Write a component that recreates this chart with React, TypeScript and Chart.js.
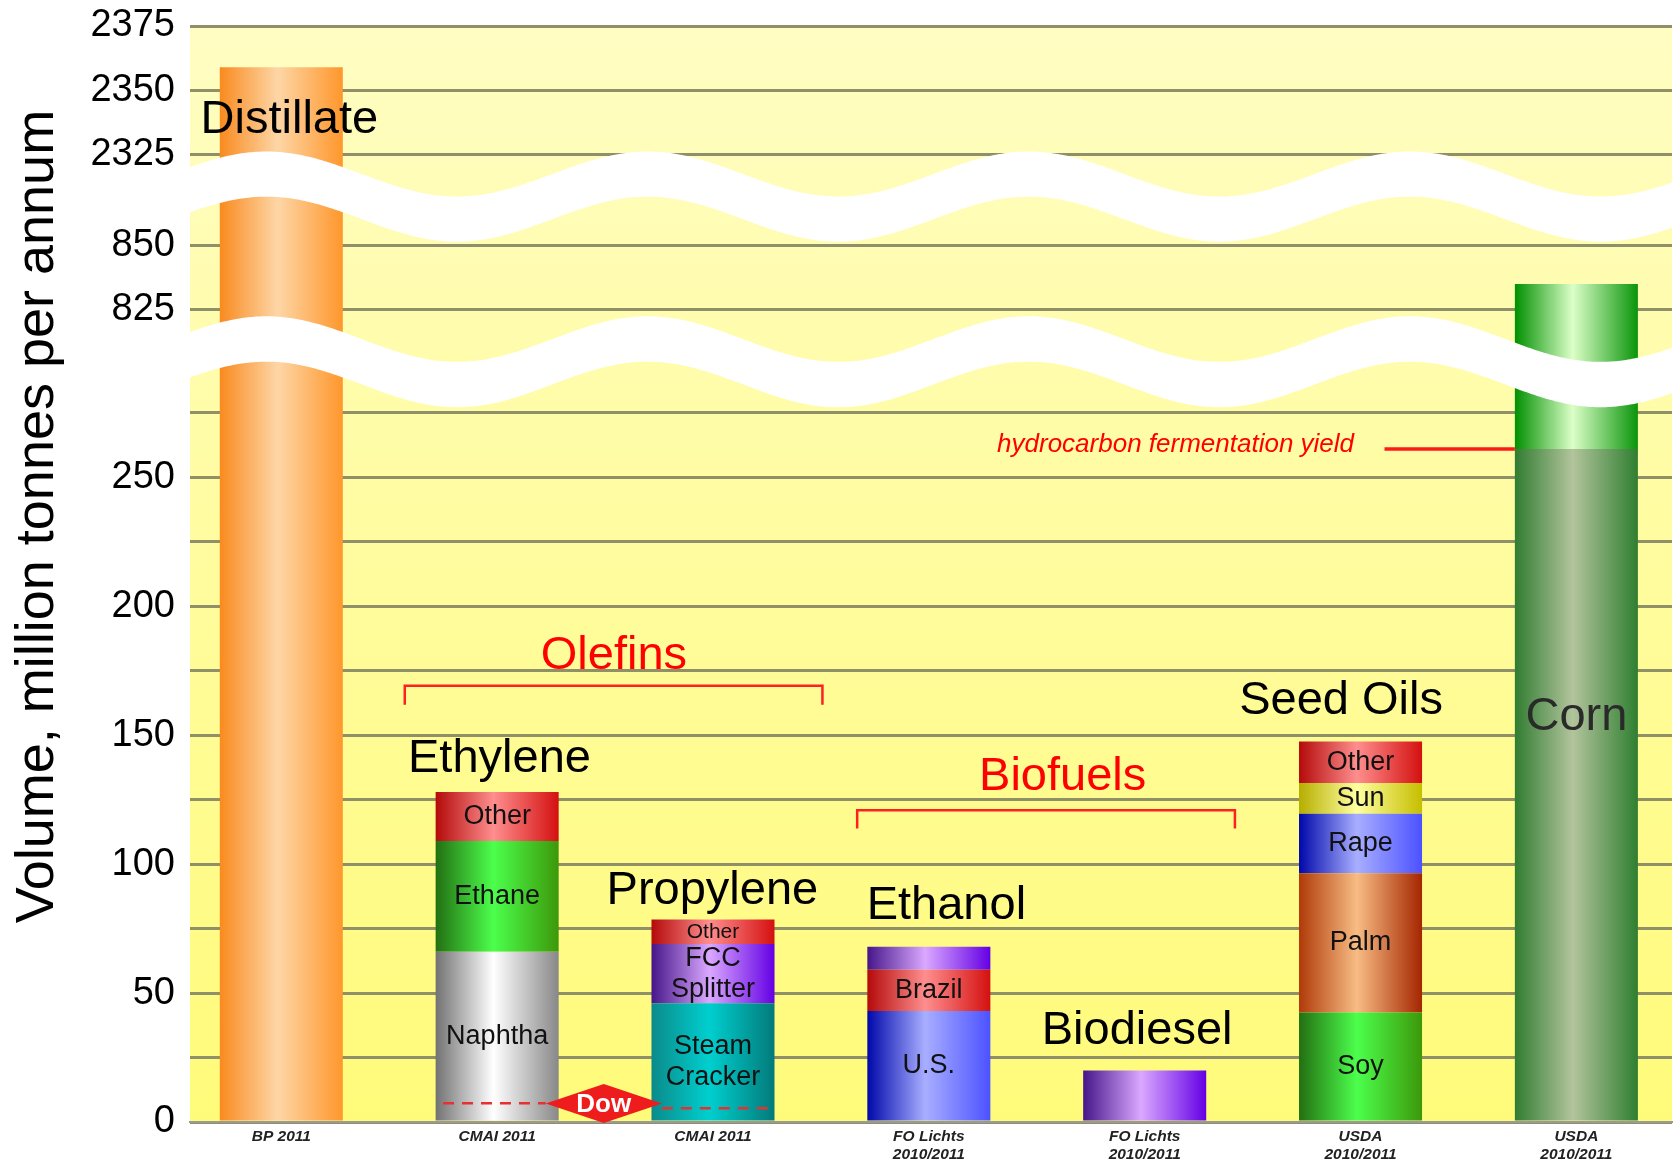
import React, { useEffect, useRef } from 'react';
import { Chart, registerables } from 'chart.js';

Chart.register(...registerables);

// ---------------- data ----------------
const categoryLabels: string[][] = [
  ['BP 2011'],
  ['CMAI 2011'],
  ['CMAI 2011'],
  ['FO Lichts', '2010/2011'],
  ['FO Lichts', '2010/2011'],
  ['USDA', '2010/2011'],
  ['USDA', '2010/2011'],
];
const productNames = ['Distillate', 'Ethylene', 'Propylene', 'Ethanol', 'Biodiesel', 'Seed Oils', 'Corn'];
const groupNames = ['Olefins', 'Biofuels'];

const distillateSegments = [''];
const distillateValues = [2359];
const ethyleneSegments = ['Naphtha', 'Ethane', 'Other'];
const ethyleneValues = [66, 43, 19];
const propyleneSegments = ['Steam\nCracker', 'FCC\nSplitter', 'Other'];
const propyleneValues = [46, 23, 9.5];
const ethanolSegments = ['U.S.', 'Brazil', ''];
const ethanolValues = [43, 16, 9];
const biodieselSegments = [''];
const biodieselValues = [20];
const seedOilSegments = ['Soy', 'Palm', 'Rape', 'Sun', 'Other'];
const seedOilValues = [42.5, 54, 23, 12, 16];
const cornSegments = ['', ''];
const cornValues = [261, 574];

const yTickValues = [0, 50, 100, 150, 200, 250, 825, 850, 2325, 2350, 2375];
const yMinorValues = [25, 75, 125, 175, 225, 275];
const dowLevels = [7.3, 5.3];
const fermentationYield = 261;
const fermentationText = 'hydrocarbon fermentation yield';
const yTitle = 'Volume, million tonnes per annum';

// ---------------- axis break mapping ----------------
function toDisplay(v: number): number {
  if (v >= 2300) return v - 1950;
  if (v >= 800) return v - 510;
  return v;
}

// ---------------- styles / layout ----------------
const FONT = '"Liberation Sans", Arial, Helvetica, sans-serif';
const X_MIN = -0.423;
const X_MAX = 6.443;
const BAR_FRACTION = 0.57;
const TOP_PAD = 26;

const palettes: Record<string, string[]> = {
  distillate: ['#f98a1f', '#fdd6a6', '#ff972c'],
  silver: ['#727272', '#ffffff', '#888888'],
  green: ['#236f12', '#4cff4c', '#3c980a'],
  red: ['#b40a0a', '#ff8e8e', '#d41010'],
  teal: ['#0b8a8a', '#00cfcf', '#037a7a'],
  purple: ['#46168a', '#daa8ff', '#6400e4'],
  blue: ['#0008aa', '#a8aeff', '#4c52ff'],
  palm: ['#b03a08', '#f8bc84', '#a52600'],
  sun: ['#b6ae00', '#ffffa0', '#c6be00'],
  cornDark: ['#317c31', '#b2c49c', '#2f7f30'],
  cornLight: ['#009000', '#dcffc8', '#0a950a'],
};

const stacks = [
  { cat: 0, product: 0, names: distillateSegments, values: distillateValues, pals: ['distillate'], sizes: [27] },
  { cat: 1, product: 1, names: ethyleneSegments, values: ethyleneValues, pals: ['silver', 'green', 'red'], sizes: [27, 27, 27] },
  { cat: 2, product: 2, names: propyleneSegments, values: propyleneValues, pals: ['teal', 'purple', 'red'], sizes: [27, 27, 21] },
  { cat: 3, product: 3, names: ethanolSegments, values: ethanolValues, pals: ['blue', 'red', 'purple'], sizes: [27, 27, 27] },
  { cat: 4, product: 4, names: biodieselSegments, values: biodieselValues, pals: ['purple'], sizes: [27] },
  { cat: 5, product: 5, names: seedOilSegments, values: seedOilValues, pals: ['green', 'palm', 'blue', 'sun', 'red'], sizes: [27, 27, 27, 27, 27] },
  { cat: 6, product: 6, names: cornSegments, values: cornValues, pals: ['cornDark', 'cornLight'], sizes: [27, 27] },
];

// product label placement (x in category units, y in display units = baseline)
const productLabelLayout = [
  { x: -0.374, y: 383.4, align: 'left', color: '#000' },
  { x: 0.587, y: 135.8, align: 'left', color: '#000' },
  { x: 1.507, y: 84.7, align: 'left', color: '#000' },
  { x: 2.712, y: 78.9, align: 'left', color: '#000' },
  { x: 3.523, y: 30.4, align: 'left', color: '#000' },
  { x: 4.438, y: 158.4, align: 'left', color: '#000' },
  { x: 6.0, y: 151.9, align: 'center', color: '#2a2a2a' },
];
const groupLayout = [
  { x: 1.541, y: 175.7, from: 0.572, to: 2.507, bracketY: 169.2, tickY: 161.8 },
  { x: 3.62, y: 128.9, from: 2.668, to: 4.418, bracketY: 120.9, tickY: 113.8 },
];
const waveBands = [
  { center: 367.6, amp: 8.73, thick: 17.5 },
  { center: 303.6, amp: 8.84, thick: 17.6 },
];
const WAVE_PHASE = -0.069;
const WAVE_PERIOD = 1.766;

function makeBg(palKey: string, cat: number) {
  let cache: any = null;
  let key = '';
  return (ctx: any) => {
    const chart = ctx.chart;
    const xs = chart.scales && chart.scales.x;
    const p = palettes[palKey];
    if (!chart.chartArea || !xs) return p[0];
    const c = xs.getPixelForValue(cat);
    const w = (xs.getPixelForValue(1) - xs.getPixelForValue(0)) * BAR_FRACTION;
    const k = c.toFixed(2) + ':' + w.toFixed(2);
    if (cache && key === k) return cache;
    const g = chart.ctx.createLinearGradient(c - w / 2, 0, c + w / 2, 0);
    g.addColorStop(0, p[0]);
    g.addColorStop(0.47, p[1]);
    g.addColorStop(1, p[2]);
    cache = g;
    key = k;
    return g;
  };
}

function buildDatasets() {
  const out: any[] = [];
  stacks.forEach((s) => {
    let cum = 0;
    s.values.forEach((v, i) => {
      const lo = toDisplay(cum);
      cum += v;
      const hi = toDisplay(cum);
      out.push({
        label: productNames[s.product] + (s.names[i] ? ' – ' + s.names[i].replace('\n', ' ') : ''),
        data: [{ x: s.cat, y: hi - lo }],
        backgroundColor: makeBg(s.pals[i], s.cat),
        borderWidth: 0,
        barText: s.names[i],
        barTextSize: s.sizes[i],
      });
    });
  });
  return out;
}

const gridDisplayValues = [...yTickValues, ...yMinorValues].map(toDisplay).sort((a, b) => a - b);
function yLabelFor(d: number): string {
  const t = yTickValues.find((v) => Math.abs(toDisplay(v) - d) < 1e-6);
  return t === undefined ? '' : String(t);
}

const decorPlugin = {
  id: 'decor',
  beforeDraw(chart: any) {
    const { ctx, chartArea: a } = chart;
    if (!a) return;
    ctx.save();
    const g = ctx.createLinearGradient(0, a.top, 0, a.bottom);
    g.addColorStop(0, '#fffdc2');
    g.addColorStop(1, '#fffb7a');
    ctx.fillStyle = g;
    ctx.fillRect(a.left, a.top, a.right - a.left, a.bottom - a.top);
    ctx.restore();
  },
  afterDatasetsDraw(chart: any) {
    const { ctx, chartArea: a } = chart;
    const xs = chart.scales.x;
    const ys = chart.scales.y;
    const px = (v: number) => xs.getPixelForValue(v);
    const py = (v: number) => ys.getPixelForValue(v);
    const unit = py(0) - py(1);
    ctx.save();

    // wavy break bands
    ctx.fillStyle = '#ffffff';
    waveBands.forEach((b) => {
      const c = py(b.center);
      const amp = b.amp * unit;
      const th = b.thick * unit;
      const topAt = (x: number) => {
        const xv = xs.getValueForPixel(x);
        return c - amp * Math.cos((2 * Math.PI * (xv - WAVE_PHASE)) / WAVE_PERIOD);
      };
      ctx.beginPath();
      for (let x = a.left; x <= a.right; x += 2) {
        const y = topAt(x);
        if (x === a.left) ctx.moveTo(x, y);
        else ctx.lineTo(x, y);
      }
      ctx.lineTo(a.right, topAt(a.right));
      ctx.lineTo(a.right, topAt(a.right) + th);
      for (let x = a.right; x >= a.left; x -= 2) ctx.lineTo(x, topAt(x) + th);
      ctx.lineTo(a.left, topAt(a.left) + th);
      ctx.closePath();
      ctx.fill();
    });

    // segment labels
    chart.data.datasets.forEach((ds: any, i: number) => {
      if (!ds.barText) return;
      const el = chart.getDatasetMeta(i).data[0];
      if (!el) return;
      const cx = el.x;
      const cy = (el.y + el.base) / 2;
      const lines = String(ds.barText).split('\n');
      const size = ds.barTextSize;
      const lh = size * 1.15;
      ctx.font = `${size}px ${FONT}`;
      ctx.fillStyle = '#111';
      ctx.textAlign = 'center';
      ctx.textBaseline = 'middle';
      lines.forEach((ln, k) => ctx.fillText(ln, cx, cy + (k - (lines.length - 1) / 2) * lh));
    });

    // Dow marker
    const dCx = px(1.494);
    const dCy = py(7.2);
    const hw = 58;
    const hh = 19.5;
    ctx.strokeStyle = '#e83030';
    ctx.lineWidth = 2.5;
    ctx.setLineDash([11, 8]);
    ctx.beginPath();
    ctx.moveTo(px(0.749), py(dowLevels[0]));
    ctx.lineTo(dCx - hw, py(dowLevels[0]));
    ctx.moveTo(dCx + hw, py(dowLevels[1]));
    ctx.lineTo(px(2.287), py(dowLevels[1]));
    ctx.stroke();
    ctx.setLineDash([]);
    ctx.fillStyle = '#ee1c1c';
    ctx.beginPath();
    ctx.moveTo(dCx - hw, dCy);
    ctx.lineTo(dCx, dCy - hh);
    ctx.lineTo(dCx + hw, dCy);
    ctx.lineTo(dCx, dCy + hh);
    ctx.closePath();
    ctx.fill();
    ctx.fillStyle = '#ffffff';
    ctx.font = `bold 26px ${FONT}`;
    ctx.textAlign = 'center';
    ctx.textBaseline = 'middle';
    ctx.fillText('Dow', dCx, dCy + 1);

    // group brackets and names
    groupLayout.forEach((g, i) => {
      ctx.strokeStyle = '#ff2020';
      ctx.lineWidth = 2.5;
      ctx.beginPath();
      ctx.moveTo(px(g.from), py(g.tickY));
      ctx.lineTo(px(g.from), py(g.bracketY));
      ctx.lineTo(px(g.to), py(g.bracketY));
      ctx.lineTo(px(g.to), py(g.tickY));
      ctx.stroke();
      ctx.fillStyle = '#ff0000';
      ctx.font = `47px ${FONT}`;
      ctx.textAlign = 'center';
      ctx.textBaseline = 'alphabetic';
      ctx.fillText(groupNames[i], px(g.x), py(g.y));
    });

    // product names
    productLabelLayout.forEach((l, i) => {
      ctx.fillStyle = l.color;
      ctx.font = `47px ${FONT}`;
      ctx.textAlign = l.align as CanvasTextAlign;
      ctx.textBaseline = 'alphabetic';
      ctx.fillText(productNames[i], px(l.x), py(l.y));
    });

    // fermentation yield marker
    ctx.strokeStyle = '#ff1a1a';
    ctx.lineWidth = 3.5;
    ctx.beginPath();
    ctx.moveTo(px(5.111), py(fermentationYield));
    ctx.lineTo(px(6 - BAR_FRACTION / 2), py(fermentationYield));
    ctx.stroke();
    ctx.fillStyle = '#ff0000';
    ctx.font = `italic 26px ${FONT}`;
    ctx.textAlign = 'right';
    ctx.textBaseline = 'alphabetic';
    ctx.fillText(fermentationText, px(4.97), py(259.9));

    ctx.restore();
  },
  afterDraw(chart: any) {
    const { ctx } = chart;
    ctx.save();
    ctx.translate(53, 516.6);
    ctx.rotate(-Math.PI / 2);
    ctx.fillStyle = '#000';
    ctx.font = `54px ${FONT}`;
    ctx.textAlign = 'center';
    ctx.textBaseline = 'alphabetic';
    ctx.fillText(yTitle, 0, 0);
    ctx.restore();
  },
};

export default function App() {
  const ref = useRef<HTMLCanvasElement | null>(null);
  useEffect(() => {
    if (!ref.current) return;
    const chart = new Chart(ref.current, {
      type: 'bar',
      data: { datasets: buildDatasets() },
      options: {
        animation: false,
        responsive: false,
        devicePixelRatio: 1,
        layout: { padding: { left: 0, right: 3, top: TOP_PAD, bottom: 0 } },
        plugins: {
          legend: { display: false },
          tooltip: { enabled: false },
          title: { display: false },
        },
        datasets: {
          bar: { grouped: false, barPercentage: BAR_FRACTION, categoryPercentage: 1, borderWidth: 0 },
        },
        scales: {
          x: {
            type: 'linear',
            offset: false,
            min: X_MIN,
            max: X_MAX,
            grid: { display: false, drawTicks: false, offset: false },
            border: { display: true, color: '#9a9a9a', width: 2 },
            ticks: {
              autoSkip: false,
              maxRotation: 0,
              padding: 5,
              color: '#222',
              font: { family: FONT, size: 15.5, weight: 'bold', style: 'italic', lineHeight: 1.2 },
              callback: (v: any) => categoryLabels[Number(v)] ?? '',
            },
            afterBuildTicks: (s: any) => {
              s.ticks = categoryLabels.map((_, i) => ({ value: i }));
            },
            afterFit: (s: any) => {
              s.height = 42;
              s.paddingLeft = 0;
              s.paddingRight = 0;
            },
          },
          y: {
            type: 'linear',
            stacked: true,
            min: 0,
            max: 425,
            grid: { color: '#8f8f68', lineWidth: 3, drawTicks: false },
            border: { display: false },
            ticks: {
              autoSkip: false,
              padding: 15,
              color: '#000',
              font: { family: FONT, size: 38 },
              callback: (v: any) => yLabelFor(Number(v)),
            },
            afterBuildTicks: (s: any) => {
              s.ticks = gridDisplayValues.map((v) => ({ value: v }));
            },
            afterFit: (s: any) => {
              s.width = 190;
              s.paddingTop = 0;
              s.paddingBottom = 0;
            },
          },
        },
      } as any,
      plugins: [decorPlugin],
    });
    return () => chart.destroy();
  }, []);
  return (
    <div style={{ position: 'absolute', left: 0, top: 0, width: 1675, height: 1164, background: '#fff' }}>
      <canvas ref={ref} width={1675} height={1164} style={{ display: 'block' }} />
    </div>
  );
}
